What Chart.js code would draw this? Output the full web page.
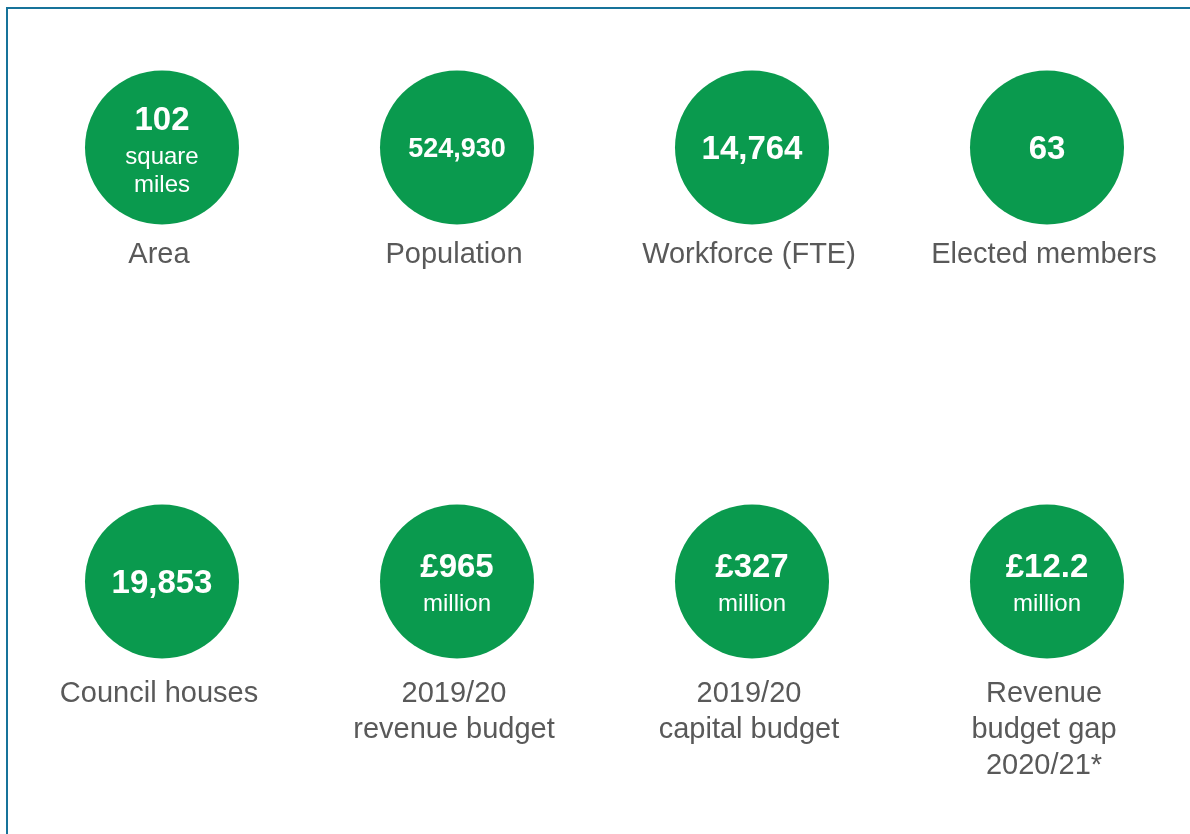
<!DOCTYPE html>
<html>
<head>
<meta charset="utf-8">
<script src="https://cdn.jsdelivr.net/npm/chart.js@4.4.1/dist/chart.umd.min.js"></script>
<style>
  html, body { margin: 0; padding: 0; background: #fff; overflow: hidden; }
  #wrap { position: relative; width: 1190px; height: 834px; }
  #frame { position: absolute; left: 6px; top: 7px; width: 1200px; height: 900px; border-left: 2px solid #16739a; border-top: 2px solid #16739a; }
  #chart { position: absolute; left: 0; top: 0; }
</style>
</head>
<body>
<div id="wrap">
  <div id="frame"></div>
  <canvas id="chart" width="1190" height="834"></canvas>
</div>
<script>
const headlines = ['102', '524,930', '14,764', '63', '19,853', '£965', '£327', '£12.2'];
const units = [['square', 'miles'], [], [], [], [], ['million'], ['million'], ['million']];
const captions = [
  ['Area'], ['Population'], ['Workforce (FTE)'], ['Elected members'],
  ['Council houses'], ['2019/20', 'revenue budget'], ['2019/20', 'capital budget'], ['Revenue', 'budget gap', '2020/21*']
];

const GREEN = '#0a9a4e';
const GREY = '#595959';
const FONT = '"Liberation Sans", Arial, sans-serif';
const PER_ROW = 4;

// each stat sits in a 4 x 2 grid, column / row come from its index
const points = headlines.map((h, i) => ({ x: i % PER_ROW, y: Math.floor(i / PER_ROW) }));

const statText = {
  id: 'statText',
  afterDatasetsDraw(chart) {
    const ctx = chart.ctx;
    const meta = chart.getDatasetMeta(0);
    ctx.save();
    ctx.textAlign = 'center';
    ctx.textBaseline = 'middle';
    meta.data.forEach((pt, i) => {
      const cx = pt.x, cy = pt.y + 2;
      const sub = units[i];

      // headline number, shrink when it would not fit
      ctx.font = 'bold 33px ' + FONT;
      let w = ctx.measureText(headlines[i]).width;
      let size = w > 104 ? Math.floor(33 * 98 / w) : 33;
      ctx.font = 'bold ' + size + 'px ' + FONT;
      ctx.fillStyle = '#fff';
      let hy = cy;
      if (sub.length === 1) hy = cy - 16;
      if (sub.length === 2) hy = cy - 29;
      ctx.fillText(headlines[i], cx, hy);

      ctx.font = '24px ' + FONT;
      if (sub.length === 1) ctx.fillText(sub[0], cx, cy + 21);
      if (sub.length === 2) {
        ctx.fillText(sub[0], cx, cy + 8);
        ctx.fillText(sub[1], cx, cy + 36);
      }

      // caption under the circle
      ctx.font = '29px ' + FONT;
      ctx.fillStyle = GREY;
      const off = points[i].y === 0 ? 105 : 110;
      captions[i].forEach((line, k) => {
        ctx.fillText(line, cx - 3, cy + off + k * 36);
      });
    });
    ctx.restore();
  }
};

new Chart(document.getElementById('chart'), {
  type: 'scatter',
  data: {
    datasets: [{
      data: points,
      backgroundColor: GREEN,
      borderWidth: 0,
      pointRadius: 77,
      pointHoverRadius: 77,
      clip: false
    }]
  },
  options: {
    responsive: false,
    animation: false,
    events: [],
    layout: { padding: 0, autoPadding: false },
    plugins: { legend: { display: false }, tooltip: { enabled: false } },
    scales: {
      x: { type: 'linear', display: false, min: -162 / 295, max: (1190 - 162) / 295 },
      y: { type: 'linear', display: false, reverse: true, min: -147.5 / 434, max: (834 - 147.5) / 434 }
    }
  },
  plugins: [statText]
});
</script>
</body>
</html>
